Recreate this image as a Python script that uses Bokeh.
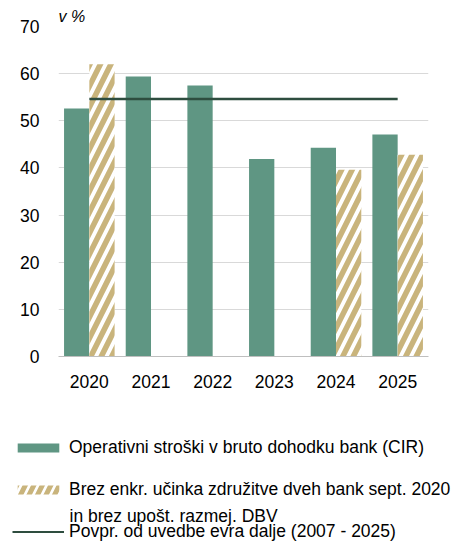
import math
from bokeh.plotting import figure
from bokeh.models import FactorRange, FixedTicker, Legend, LegendItem, Label, Title
from bokeh.layouts import column
from bokeh.transform import dodge
from bokeh.embed import file_html
from bokeh.resources import INLINE

# ---- data ----
years = ["2020", "2021", "2022", "2023", "2024", "2025"]
cir = [52.6, 59.4, 57.5, 41.9, 44.3, 47.1]
cir_adj = [62.0, math.nan, math.nan, math.nan, 39.6, 42.8]
avg_years = ["2020", "2025"]
avg_value = [54.6, 54.6]
y_ticks = [0, 10, 20, 30, 40, 50, 60, 70]

label_cir = "Operativni stroški v bruto dohodku bank (CIR)"
label_adj_1 = "Brez enkr. učinka združitve dveh bank sept. 2020"
label_adj_2 = "in brez upošt. razmej. DBV"
label_avg = "Povpr. od uvedbe evra dalje (2007 - 2025)"
unit_label = "v %"

GREEN = "#5F9683"
TAN = "#C9B47C"
DARK = "#2E4D3F"
FONT = "Liberation Sans"
FS = "17.5px"

src = dict(x=years, cir=cir, adj=cir_adj)


def draw_series(fig, visible=True):
    a = fig.vbar(x=dodge("x", -0.205, range=fig.x_range), top="cir", width=0.41,
                 source=src, fill_color=GREEN, line_color=None, visible=visible)
    b = fig.vbar(x=dodge("x", 0.205, range=fig.x_range), top="adj", width=0.41,
                 source=src, fill_color="white", line_color=None,
                 hatch_pattern="/", hatch_color=TAN, hatch_scale=21, hatch_weight=5.5,
                 visible=visible)
    c = fig.line(x=avg_years, y=avg_value, line_color=DARK, line_width=2.5, visible=visible)
    return a, b, c


# ---- main chart ----
p = figure(x_range=FactorRange(*years), y_range=(0, 70),
           width=453, height=400, output_backend="svg", toolbar_location=None,
           min_border_left=58, min_border_right=25, min_border_top=26,
           min_border_bottom=44)
p.frame_align = False
p.outline_line_color = None
p.title = Title(text=unit_label, align="left", text_font=FONT, text_font_size="16px",
                text_font_style="italic", text_color="#000000", standoff=3, offset=0)
draw_series(p)

p.xgrid.grid_line_color = None
p.ygrid.grid_line_color = "#D9D9D9"
p.ygrid.grid_line_width = 1
p.yaxis.ticker = FixedTicker(ticks=y_ticks)
p.yaxis.axis_line_color = None
p.yaxis.major_tick_line_color = None
p.yaxis.minor_tick_line_color = None
p.yaxis.major_tick_out = 0
p.yaxis.minor_tick_out = 0
p.yaxis.major_label_standoff = 19
p.xaxis.axis_line_color = "#BFBFBF"
p.xaxis.axis_line_width = 1
p.xaxis.major_tick_line_color = None
p.xaxis.minor_tick_line_color = None
p.xaxis.major_tick_out = 0
p.xaxis.minor_tick_out = 0
p.xaxis.major_label_standoff = 18
for ax in (p.xaxis, p.yaxis):
    ax.major_label_text_font = FONT
    ax.major_label_text_font_size = FS
    ax.major_label_text_color = "#000000"

# ---- legend area (same series, hidden; only used as legend keys) ----
q = figure(x_range=FactorRange(*years), y_range=(0, 70), width=453, height=144,
           output_backend="svg", toolbar_location=None,
           x_axis_location=None, y_axis_location=None, min_border=0)
q.frame_align = False
q.outline_line_color = None
q.grid.visible = False
g_cir, g_adj, g_avg = draw_series(q, visible=False)
g_adj.glyph.hatch_scale = 17
g_adj.glyph.hatch_weight = 5
g_avg.glyph.line_width = 2


def make_legend(item, loc):
    lg = Legend(items=[item], location=loc, orientation="vertical",
                glyph_width=52, glyph_height=11, label_standoff=5,
                padding=0, margin=0, spacing=0, border_line_color=None,
                background_fill_alpha=0, label_text_font=FONT,
                label_text_font_size=FS, label_text_color="#000000",
                label_height=20, click_policy="none")
    q.add_layout(lg, "center")
    return lg


make_legend(LegendItem(label=label_cir, renderers=[g_cir]), (12, 86))
make_legend(LegendItem(label=label_adj_1, renderers=[g_adj]), (12, 44))
q.add_layout(Label(x=69, y=29, x_units="screen", y_units="screen", text=label_adj_2,
                   text_font=FONT, text_font_size=FS, text_baseline="middle",
                   text_color="#000000"))
make_legend(LegendItem(label=label_avg, renderers=[g_avg]), (12, 2))

layout = column(p, q)
open("out.html", "w").write(file_html(layout, INLINE))
